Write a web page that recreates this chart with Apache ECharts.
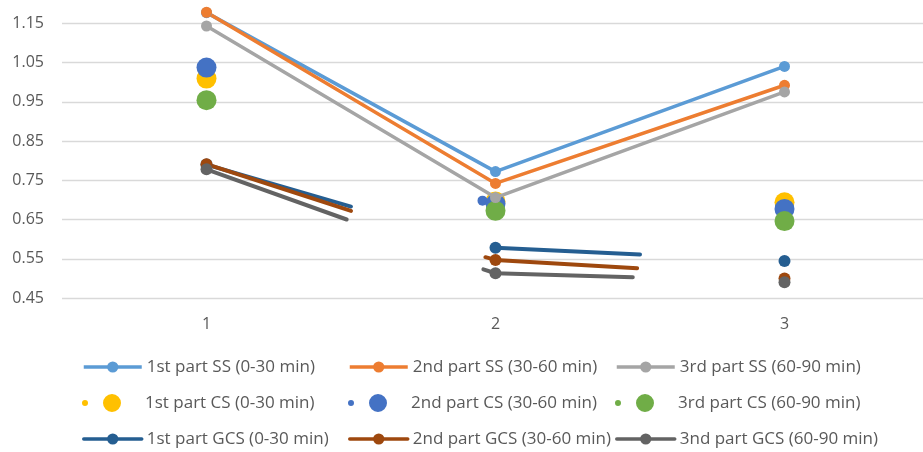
<!DOCTYPE html>
<html>
<head>
<meta charset="utf-8">
<script src="https://cdn.jsdelivr.net/npm/echarts@6/dist/echarts.min.js"></script>
<style>html,body{margin:0;padding:0;background:#fff}#c{width:923px;height:452px}</style>
</head>
<body>
<div id="c"></div>
<script>
// x tick labels
var xTicks = [1, 2, 3];
// SS lines (values at 1, 2, 3)
var ss1 = [1.177, 0.772, 1.040];
var ss2 = [1.178, 0.742, 0.992];
var ss3 = [1.143, 0.706, 0.975];
// CS points
var cs1 = [[1, 1.009], [2, 0.696], [3, 0.694]];
var cs2 = [[1, 1.037], [1.955, 0.698], [2, 0.690], [3, 0.677]];
var cs3 = [[1, 0.954], [2, 0.672], [3, 0.646]];
// GCS segments (null separates segments)
var gcs1 = [[1, 0.790], [1.5, 0.683], null, [2, 0.578], [2.5, 0.561], null, [3, 0.544]];
var gcs2 = [[1, 0.791], [1.5, 0.672], null, [1.965, 0.554], [2, 0.547], [2.49, 0.526], null, [3, 0.500]];
var gcs3 = [[1, 0.778], [1.485, 0.650], null, [1.958, 0.523], [2, 0.513], [2.475, 0.503], null, [3, 0.490]];

var names = {
  ss1: '1st part SS (0-30 min)', ss2: '2nd part SS (30-60 min)', ss3: '3rd part SS (60-90 min)',
  cs1: '1st part CS (0-30 min)', cs2: '2nd part CS (30-60 min)', cs3: '3rd part CS (60-90 min)',
  gcs1: '1st part GCS (0-30 min)', gcs2: '2nd part GCS (30-60 min)', gcs3: '3nd part GCS (60-90 min)'
};
var colors = {
  ss1: '#5B9BD5', ss2: '#ED7D31', ss3: '#A5A5A5',
  cs1: '#FFC000', cs2: '#4472C4', cs3: '#70AD47',
  gcs1: '#255E91', gcs2: '#9E480E', gcs3: '#636363'
};
var FONT = 'Open Sans';
var txt = '#595959';

function ssSeries(key, vals) {
  return {
    name: names[key], type: 'line', data: vals.map(function (v, i) { return [xTicks[i], v]; }),
    symbol: 'circle', symbolSize: 11, showAllSymbol: true,
    lineStyle: { width: 3.5, color: colors[key] }, itemStyle: { color: colors[key] },
    emphasis: { disabled: true }, animation: false
  };
}
function csSeries(key, pts) {
  return {
    name: names[key], type: 'scatter', symbol: 'circle',
    data: pts.map(function (p) {
      var integer = Math.abs(p[0] - Math.round(p[0])) < 1e-9;
      return { value: p, symbolSize: integer ? 20 : 10 };
    }),
    itemStyle: { color: colors[key], opacity: 1 }, emphasis: { disabled: true }, animation: false
  };
}
function gcsSeries(key, pts) {
  return {
    name: names[key], type: 'line', connectNulls: false, showAllSymbol: true,
    symbol: 'circle', symbolSize: 12,
    data: pts.map(function (p) {
      if (p === null) return '-';
      var integer = Math.abs(p[0] - Math.round(p[0])) < 1e-9;
      return integer ? { value: p } : { value: p, symbol: 'none' };
    }),
    lineStyle: { width: 4, color: colors[key], cap: 'round' }, itemStyle: { color: colors[key] },
    emphasis: { disabled: true }, animation: false
  };
}

var csIcon = 'path://M-1,9 L-0.99,9 Z M57,9 L56.99,9 Z M-1,9 A3,3 0 1 1 5,9 A3,3 0 1 1 -1,9 Z M20,9 A9,9 0 1 1 38,9 A9,9 0 1 1 20,9 Z';

var colLeft = [82, 348, 615];
var rowTop = [358, 394, 430];
var layout = [['ss1', 'ss2', 'ss3'], ['cs1', 'cs2', 'cs3'], ['gcs1', 'gcs2', 'gcs3']];

var legends = [];
layout.forEach(function (row, r) {
  row.forEach(function (k, c) {
    var isCs = k.indexOf('cs') === 0;
    legends.push({
      left: colLeft[c], top: rowTop[r], padding: 0, selectedMode: false,
      itemWidth: 58, itemHeight: isCs ? 18 : 14,
      lineStyle: { width: 3.5 },
      textStyle: { fontFamily: FONT, fontSize: 17, color: txt, lineHeight: 18 },
      data: [isCs ? { name: names[k], icon: csIcon, itemStyle: { color: colors[k] } } : { name: names[k] }]
    });
  });
});

var chart = echarts.init(document.getElementById('c'), null, { renderer: 'canvas' });
chart.setOption({
  animation: false,
  backgroundColor: '#fff',
  grid: { left: 62, top: -16, width: 867, height: 314, containLabel: false, outerBoundsMode: 'none' },
  xAxis: {
    type: 'value', min: 0.5, max: 3.5,
    axisLine: { show: false }, axisTick: { show: false }, splitLine: { show: false },
    axisLabel: { customValues: xTicks, margin: 18, fontFamily: FONT, fontSize: 16, color: txt }
  },
  yAxis: {
    type: 'value', min: 0.45, max: 1.25, interval: 0.1,
    axisLine: { show: false }, axisTick: { show: false },
    splitLine: { lineStyle: { color: '#D9D9D9', width: 1.3 } },
    axisLabel: { margin: 18, fontFamily: FONT, fontSize: 16, color: txt,
      formatter: function (v) { return v.toFixed(2); } }
  },
  legend: legends,
  series: [
    ssSeries('ss1', ss1), ssSeries('ss2', ss2), ssSeries('ss3', ss3),
    csSeries('cs1', cs1), csSeries('cs2', cs2), csSeries('cs3', cs3),
    gcsSeries('gcs1', gcs1), gcsSeries('gcs2', gcs2), gcsSeries('gcs3', gcs3)
  ]
});
</script>
</body>
</html>
